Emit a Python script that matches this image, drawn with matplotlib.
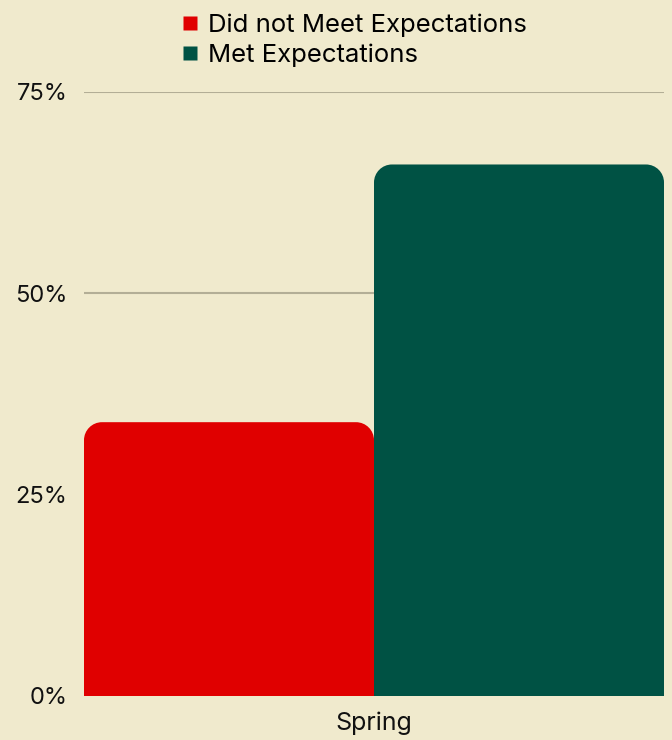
import matplotlib.pyplot as plt
from matplotlib.path import Path
from matplotlib.patches import PathPatch
from matplotlib.lines import Line2D

plt.rcParams['font.family'] = ['Inter', 'DejaVu Sans']

categories = ['Spring']
series = ['Did not Meet Expectations', 'Met Expectations']
values = [34, 66]
colors = ['#E00000', '#005244']
yticks = [0, 25, 50, 75]
ytick_labels = ['0%', '25%', '50%', '75%']

BG = '#F0EACD'
RADIUS_PX = 18


def rounded_top(ax, x0, w, h, r_px, color):
    # convert corner radius from pixels to data units on each axis
    bbox = ax.get_window_extent()
    x_lo, x_hi = ax.get_xlim()
    y_lo, y_hi = ax.get_ylim()
    rx = r_px * (x_hi - x_lo) / bbox.width
    ry = r_px * (y_hi - y_lo) / bbox.height
    k = 0.5523
    x1 = x0 + w
    verts = [
        (x0, 0), (x0, h - ry),
        (x0, h - ry + k * ry), (x0 + rx - k * rx, h), (x0 + rx, h),
        (x1 - rx, h),
        (x1 - rx + k * rx, h), (x1, h - ry + k * ry), (x1, h - ry),
        (x1, 0), (x0, 0),
    ]
    codes = [Path.MOVETO, Path.LINETO,
             Path.CURVE4, Path.CURVE4, Path.CURVE4,
             Path.LINETO,
             Path.CURVE4, Path.CURVE4, Path.CURVE4,
             Path.LINETO, Path.CLOSEPOLY]
    ax.add_patch(PathPatch(Path(verts, codes), facecolor=color,
                           edgecolor='none', zorder=3))


fig = plt.figure(figsize=(6.72, 7.4), dpi=100, facecolor=BG)
ax = fig.add_axes([84 / 672, 1 - 696 / 740, 580 / 672, 604 / 740])
ax.set_facecolor(BG)

width = 0.5
x = list(range(len(categories)))
offsets = [-width / 2, width / 2]
ax.set_xlim(-0.5, 0.5)
ax.set_ylim(0, 75)

for i, (name, col) in enumerate(zip(series, colors)):
    bars = ax.bar([xi + offsets[i] for xi in x], [values[i]], width=width,
                  color=col, alpha=0)
    for b in bars:
        rounded_top(ax, b.get_x(), b.get_width(), b.get_height(),
                    RADIUS_PX, col)

ax.set_yticks(yticks)
ax.set_yticklabels(ytick_labels)
ax.set_xticks(x)
ax.set_xticklabels(categories)
ax.tick_params(axis='both', length=0, colors='#111111')
ax.tick_params(axis='y', pad=12, labelsize=17)
ax.tick_params(axis='x', pad=11, labelsize=18)
for s in ax.spines.values():
    s.set_visible(False)
for yt in yticks[1:]:
    ax.axhline(yt, color='#B3AE96', linewidth=1.5, zorder=1)

handles = [Line2D([], [], marker='s', linestyle='none', markersize=9.5,
                  markerfacecolor=c, markeredgecolor='none') for c in colors]
fig.legend(handles, series, loc='upper left',
           bbox_to_anchor=(167 / 672, 1 - 3 / 740), frameon=False,
           fontsize=18.5, handletextpad=0.2, labelspacing=0.27,
           handlelength=1.0, borderaxespad=0)

fig.savefig('out.png', dpi=100, facecolor=BG)
